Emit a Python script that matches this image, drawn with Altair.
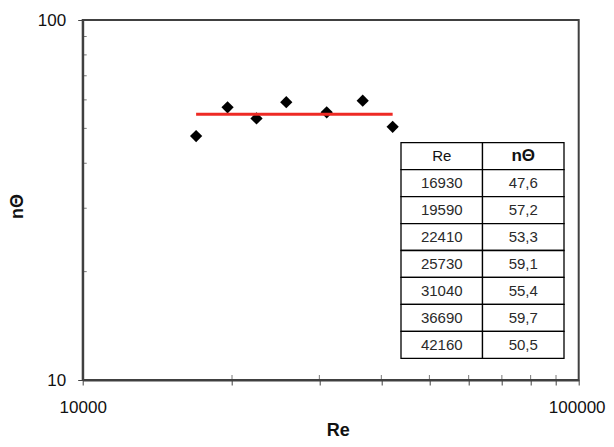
import altair as alt
import pandas as pd

# ---- data ----
re_vals = [16930, 19590, 22410, 25730, 31040, 36690, 42160]
n_vals = [47.6, 57.2, 53.3, 59.1, 55.4, 59.7, 50.5]
x_tick_vals = [10000, 20000, 30000, 40000, 50000, 60000, 70000, 80000, 90000, 100000]
x_minor_vals = [20000, 30000, 40000, 50000, 60000, 70000, 80000, 90000]
y_tick_vals = [10, 100]
y_minor_vals = [20, 30, 40, 50, 60, 70, 80, 90]
table_cols = ["Re", "nΘ"]

FONT = "Liberation Sans"
AX = "#404040"

pts = pd.DataFrame({"Re": re_vals, "n": n_vals})

xscale = alt.Scale(type="log", domain=[10000, 100000], nice=False)
yscale = alt.Scale(type="log", domain=[10, 100], nice=False)

x_axis = alt.Axis(
    values=x_tick_vals, format="d",
    labelExpr="(datum.value == 10000 || datum.value == 100000) ? datum.label : ''",
    labelOffset={"condition": {"test": "datum.value == 100000", "value": -2}, "value": 0},
    labelFlush=False, labelOverlap=False, tickSize=5, labelPadding=14,
    title="Re", titleX=255, titleY=55, titleBaseline="alphabetic", grid=False,
)
y_axis = alt.Axis(
    values=y_tick_vals, format="d", tickSize=5, labelPadding=12,
    labelOverlap=False, labelFlush=False,
    title="nΘ", titleAngle=270, titleX=-65.7, titleY=186,
    titleAlign="center", titleBaseline="middle", grid=False,
)

scatter = alt.Chart(pts).mark_point(
    shape="diamond", filled=True, color="black", size=150, opacity=1
).encode(
    x=alt.X("Re:Q", scale=xscale, axis=x_axis),
    y=alt.Y("n:Q", scale=yscale, axis=y_axis),
)

mean_line = alt.Chart(pts).mark_rule(color="#ee2a24", strokeWidth=3).encode(
    x=alt.X("min(Re):Q", scale=xscale, title="Re"),
    x2="max(Re):Q",
    y=alt.Y("mean(n):Q", scale=yscale, title="nΘ"),
)

y_minor = alt.Chart(pd.DataFrame({"v": y_minor_vals})).mark_tick(
    color=AX, thickness=1, size=4, orient="horizontal"
).encode(
    y=alt.Y("v:Q", scale=yscale, title="nΘ"),
    x=alt.value(2),
)

x_minor = alt.Chart(pd.DataFrame({"v": x_minor_vals})).mark_tick(
    color=AX, thickness=1, size=5, orient="vertical"
).encode(
    x=alt.X("v:Q", scale=xscale, title="Re"),
    y=alt.value(357.5),
)

main = alt.layer(scatter, y_minor, x_minor, mean_line)

# ---- embedded table ----
rows = ["hdr"] + [str(r) for r in re_vals]
cells = pd.DataFrame([{"col": c, "row": r} for r in rows for c in table_cols])
body = pd.DataFrame(
    [{"col": "Re", "row": str(r), "label": str(r)} for r in re_vals]
    + [{"col": "nΘ", "row": str(r), "label": f"{v:.1f}".replace(".", ",")}
       for r, v in zip(re_vals, n_vals)]
)
hdr_re = pd.DataFrame({"col": ["Re"], "row": ["hdr"], "label": ["Re"]})
hdr_n = pd.DataFrame({"col": ["nΘ"], "row": ["hdr"], "label": ["nΘ"]})

tx = alt.X("col:N", scale=alt.Scale(domain=table_cols, range=[318.3, 481.3],
                                    paddingInner=0, paddingOuter=0), axis=None)
ty = alt.Y("row:N", scale=alt.Scale(domain=rows, range=[122.7, 338.3],
                                    paddingInner=0, paddingOuter=0), axis=None)

t_rect = alt.Chart(cells).mark_rect(fill="white", stroke="black", strokeWidth=1.3).encode(x=tx, y=ty)
t_body = alt.Chart(body).mark_text(font=FONT, fontSize=15, color="#2a2a2a").encode(x=tx, y=ty, text="label:N")
t_hdr1 = alt.Chart(hdr_re).mark_text(font=FONT, fontSize=15, color="#111").encode(x=tx, y=ty, text="label:N")
t_hdr2 = alt.Chart(hdr_n).mark_text(font=FONT, fontSize=17, fontWeight="bold", color="#111").encode(x=tx, y=ty, text="label:N")

table = alt.layer(t_rect, t_body, t_hdr1, t_hdr2)

chart = alt.layer(main, table).resolve_scale(
    x="independent", y="independent"
).properties(
    width=496, height=360,
    autosize=alt.AutoSizeParams(type="none"),
    padding={"left": 74.7, "top": 12, "right": 27.3, "bottom": 59},
    background="white",
).configure_view(
    stroke=AX, strokeWidth=2
).configure_axis(
    domainColor=AX, domainWidth=2, tickColor=AX, tickWidth=1,
    labelFont=FONT, labelFontSize=17, labelColor="#111",
    titleFont=FONT, titleFontSize=18, titleFontWeight="bold", titleColor="#111",
)

chart.save("out.html", embed_options={"renderer": "svg", "actions": False})
